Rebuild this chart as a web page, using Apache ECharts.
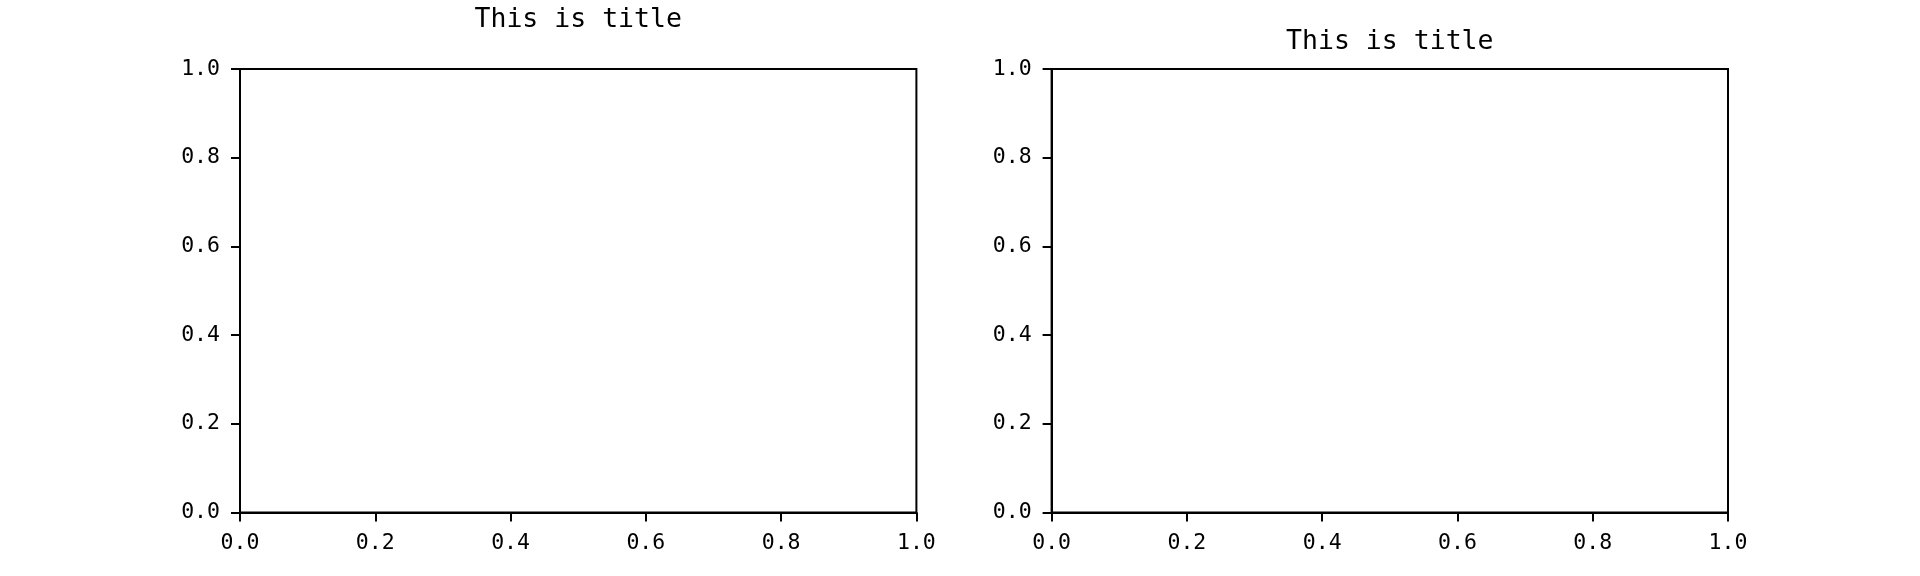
<!DOCTYPE html>
<html>
<head>
<meta charset="utf-8">
<script src="https://cdn.jsdelivr.net/npm/echarts@6/dist/echarts.min.js"></script>
<style>
html,body{margin:0;padding:0;background:#fff;}
#chart{width:1920px;height:576px;}
</style>
</head>
<body>
<div id="chart"></div>
<script>
const titles = ["This is title", "This is title"];
const axisMin = 0;
const axisMax = 1;
const tickStep = 0.2;
const seriesLeft = [];
const seriesRight = [];

const FONT = "DejaVu Sans Mono";
const chart = echarts.init(document.getElementById('chart'), null, {renderer: 'canvas'});

const gridPos = [
  {left: 240, top: 69, width: 676.4, height: 443.6},
  {left: 1051.6, top: 69, width: 676.4, height: 443.6}
];
const titleTop = [7, 29];

function fmt(v){ return Number(v).toFixed(1); }

const common = (idx, isX) => ({
  gridIndex: idx,
  type: 'value',
  min: axisMin, max: axisMax, interval: tickStep,
  position: isX ? 'bottom' : 'left',
  axisLine: {show: true, onZero: false, lineStyle: {color: '#000', width: 2}},
  axisTick: {show: true, inside: false, length: 9, lineStyle: {color: '#000', width: 2}},
  axisLabel: {show: true, margin: 20, color: '#000', fontFamily: FONT, fontSize: 21.5, formatter: fmt,
    padding: isX ? 0 : [7, 0, 0, 0],
    showMinLabel: true, showMaxLabel: true},
  splitLine: {show: false}
});

chart.setOption({
  animation: false,
  backgroundColor: '#fff',
  title: titles.map((t, i) => ({
    text: t,
    left: gridPos[i].left + gridPos[i].width / 2,
    top: titleTop[i],
    textAlign: 'center',
    padding: 0,
    textStyle: {fontFamily: FONT, fontSize: 26.5, fontWeight: 'normal', color: '#000'}
  })),
  grid: gridPos.map(g => Object.assign({show: true, borderColor: '#000', borderWidth: 2, backgroundColor: 'transparent'}, g)),
  xAxis: [common(0, true), common(1, true)],
  yAxis: [common(0, false), common(1, false)],
  series: [
    {type: 'line', xAxisIndex: 0, yAxisIndex: 0, data: seriesLeft},
    {type: 'line', xAxisIndex: 1, yAxisIndex: 1, data: seriesRight}
  ]
});
</script>
</body>
</html>
